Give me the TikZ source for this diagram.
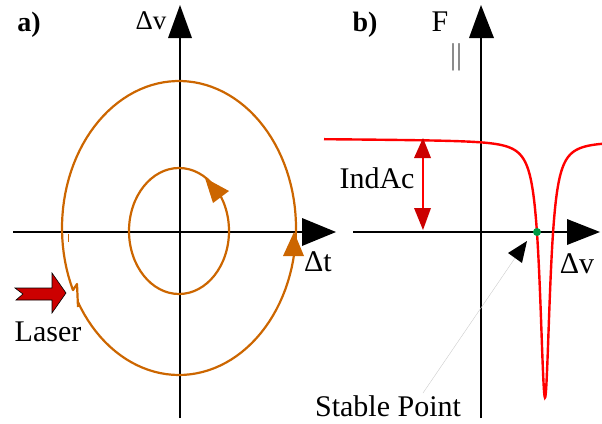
\documentclass[tikz,border=0pt]{standalone}
\usepackage{fontspec}
\setmainfont{Liberation Serif}
\begin{document}
\begin{tikzpicture}[x=1pt,y=-1pt]
\definecolor{orng}{RGB}{204,102,0}
\definecolor{dred}{RGB}{204,0,0}
\definecolor{grn}{RGB}{0,153,68}
\tikzset{
  axisline/.style={line width=2.6pt,black},
  orbit/.style={orng,line width=2.2pt,line join=round},
  lbl/.style={font=\fontsize{30}{30}\selectfont,inner sep=0pt},
  smalllbl/.style={font=\fontsize{27}{27}\selectfont,inner sep=0pt},
  panel/.style={font=\fontsize{28}{28}\selectfont\bfseries,inner sep=0pt}
}
\useasboundingbox (0,0) rectangle (602,423);

% ---------- panel a ----------
\draw[axisline] (180,418) -- (180,36);
\fill (180,5) -- (168,38) -- (192,38) -- cycle;
\draw[axisline] (13,232) -- (304,232);
\fill (336,232) -- (302,218) -- (302,246) -- cycle;

\draw[orbit] (179,231) ellipse [x radius=50pt, y radius=63pt];
\fill[orng] (205,178) -- (229,191) -- (213,203) -- cycle;

\draw[orbit] plot[domain=150:-205, samples=120] ({179+117*cos(\x)}, {228+147*sin(\x)}) -- (77,284) -- (78,307);
\draw[orng,line width=1pt] (68,234) -- (68,242);
\fill[orng] (294,232) -- (283,256) -- (304,256) -- cycle;

\draw[fill=dred,line width=0.6pt,line join=miter] (15,288) -- (52,288) -- (52,273) -- (66,293) -- (52,313) -- (52,300) -- (16,300) -- (23,294) -- cycle;

\node[panel] (pa) at (29,25) {a)};
\node[smalllbl] (dva) at (151,21) {Δv};
\node[lbl] (dt) at (318,262) {Δt};
\node[lbl] (laser) at (48,332) {Laser};

% ---------- panel b ----------
\draw[axisline] (481,418) -- (481,36);
\fill (481,5) -- (469,38) -- (494,38) -- cycle;
\draw[axisline] (353,232) -- (569,232);
\fill (600,232) -- (567,219) -- (567,245) -- cycle;

\draw[red,line width=2.4pt] plot[domain=324:602, samples=800] (\x, {139 + 2*(\x-324)/278 + 257/(1+((\x-545)/6)^2)});
\fill[grn] (537,232) circle (4pt);

\draw[red,line width=1.2pt] (423,150) -- (423,216);
\fill[dred] (423,138) -- (414,158) -- (431,158) -- cycle;
\fill[dred] (423,230) -- (414,208) -- (431,208) -- cycle;

\draw[black!20,line width=0.4pt] (423,393) -- (515,258);
\fill (527,241) -- (508,253) -- (522,263) -- cycle;

\node[panel] (pb) at (365,25) {b)};
\node[lbl] (f) at (440,22) {F};
\node[lbl,text=black!60] (par) at (456,57) {||};
\node[lbl] (dvb) at (577,264) {Δv};
\node[lbl] (ind) at (377,178) {IndAc};
\node[lbl] (sp) at (388,406) {Stable Point};
\end{tikzpicture}
\end{document}
